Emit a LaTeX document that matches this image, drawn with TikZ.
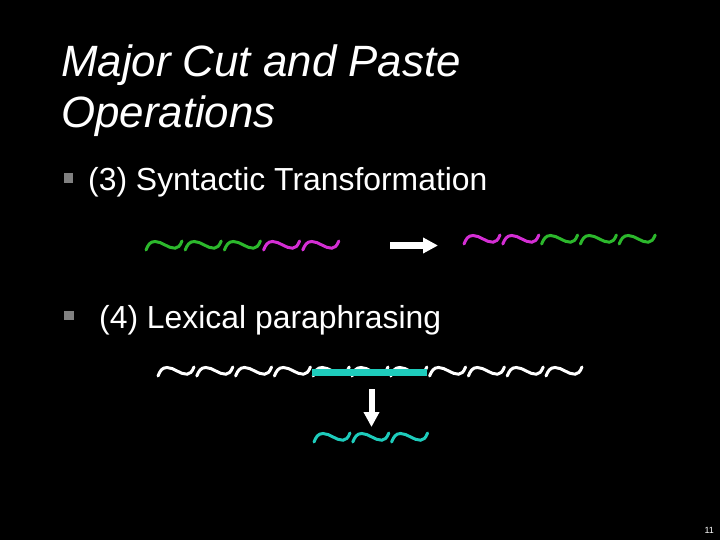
\documentclass[tikz,border=0pt]{standalone}
\usepackage{fontspec}
\setmainfont{Liberation Sans}
\usepackage{tikz}
\usetikzlibrary{positioning,arrows.meta}
\definecolor{tgreen}{RGB}{44,184,44}
\definecolor{tmag}{RGB}{212,46,212}
\definecolor{tcyan}{RGB}{30,204,188}
\definecolor{bulletgray}{RGB}{128,128,128}
\tikzstyle{title}=[font=\fontsize{44}{51}\selectfont\itshape, text=white, inner sep=0, anchor=base west]
\tikzstyle{item}=[font=\fontsize{32}{38}\selectfont, text=white, inner sep=0, anchor=base west]
\tikzstyle{bullet}=[rectangle, fill=bulletgray, minimum size=9.5bp, inner sep=0]
\tikzstyle{bigarrow}=[white, line width=6.5bp, -{Triangle[length=15bp, width=15bp]}]
\tikzset{squig/.pic={
    \draw[line width=3bp, line cap=round]
        (0,5) .. controls (2,0) and (4,-3.5) .. (9,-3.5)
        .. controls (16,-3.5) and (22,3.5) .. (29,3.2)
        .. controls (32,3) and (34,1) .. (36,-4);
}}

\begin{document}
\begin{tikzpicture}[x=1bp, y=-1bp]
        \fill[black] (0,0) rectangle (720,540);
        \useasboundingbox (0,0) rectangle (720,540);

        \node(title)[title] at (61,77) {Major Cut and Paste};
        \node(titlecont)[title] at (61,128) {Operations};

        \node(bulletA)[bullet] at (68.5,178) {};
        \node(syntactic)[item] at (88,191) {(3) Syntactic Transformation};

        % reordering
        \foreach \i/\c in {0/tgreen,1/tgreen,2/tgreen,3/tmag,4/tmag}
            \pic[color=\c] at (146+39.2*\i,245) {squig};
        \coordinate(rightfrom) at (390,245.5);
        \coordinate(rightto) at (438,245.5);
        \draw[bigarrow] (rightfrom) -- (rightto);
        \foreach \i/\c in {0/tmag,1/tmag,2/tgreen,3/tgreen,4/tgreen}
            \pic[color=\c] at (464+38.8*\i,239) {squig};

        \node(bulletB)[bullet] at (69,315.5) {};
        \node(lexical)[item] at (99,328) {(4) Lexical paraphrasing};

        % paraphrase
        \foreach \i in {0,...,10}
            \pic[color=white] at (158+38.8*\i,371) {squig};
        \node(phrase)[rectangle, fill=tcyan, inner sep=0, minimum width=115bp, minimum height=7.5bp] at (369.5,372.25) {};
        \coordinate(downfrom) at (371.5,389);
        \coordinate(downto) at (371.5,427);
        \draw[bigarrow, line width=6bp] (downfrom) -- (downto);
        \foreach \i in {0,1,2}
            \pic[color=tcyan] at (314+38.8*\i,437) {squig};

        \node(pagenum)[font=\fontsize{9}{9}\selectfont, text=white, inner sep=0, anchor=base east] at (714,533) {11};
    \end{tikzpicture}
\end{document}
